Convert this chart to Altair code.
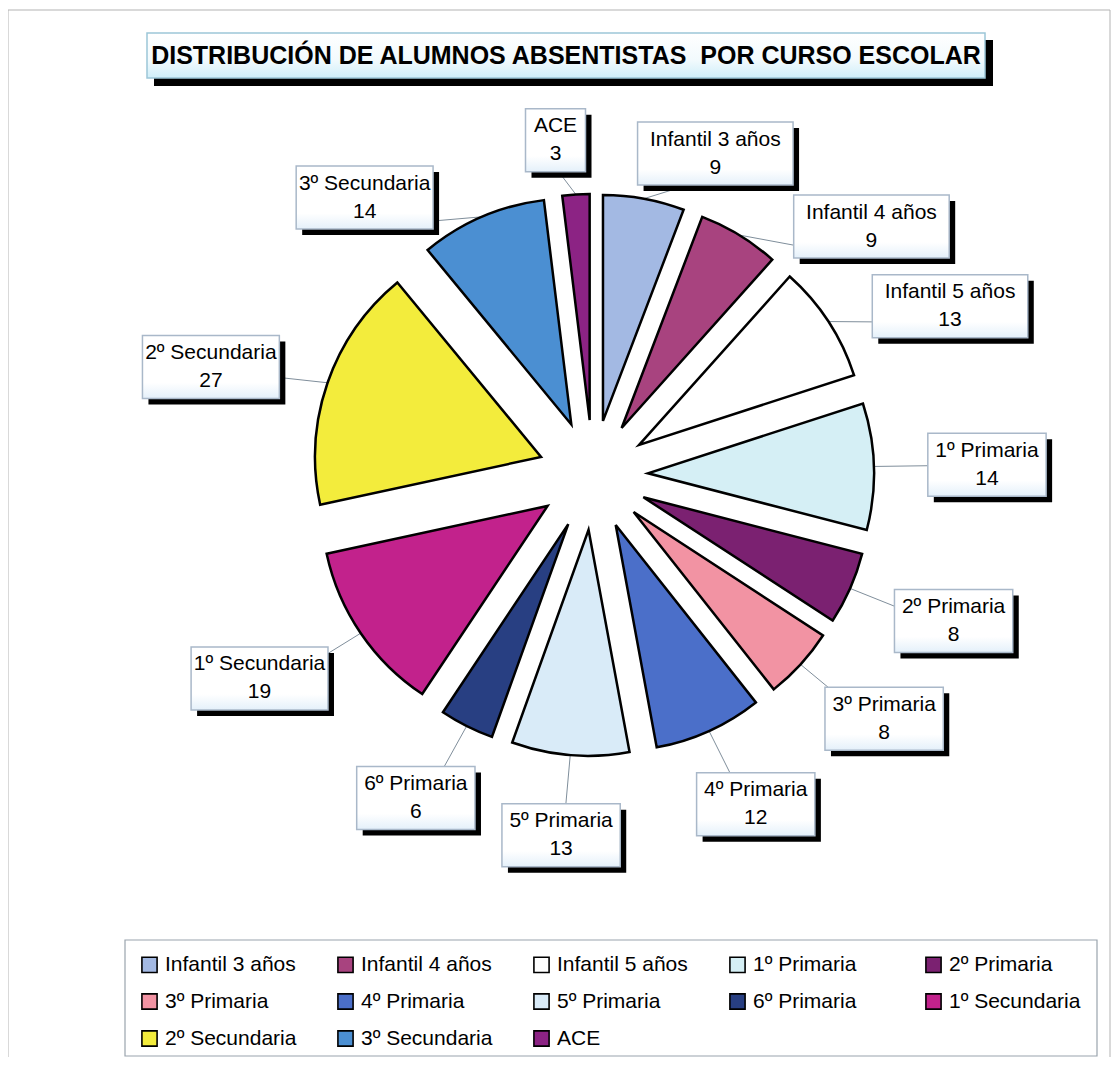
import altair as alt
import pandas as pd

# ---- data ----
categories = ["Infantil 3 años", "Infantil 4 años", "Infantil 5 años", "1º Primaria",
              "2º Primaria", "3º Primaria", "4º Primaria", "5º Primaria", "6º Primaria",
              "1º Secundaria", "2º Secundaria", "3º Secundaria", "ACE"]
values = [9, 9, 13, 14, 8, 8, 12, 13, 6, 19, 27, 14, 3]
title_text = "DISTRIBUCIÓN DE ALUMNOS ABSENTISTAS\u00a0 POR CURSO ESCOLAR"

# ---- style ----
palette = ["#a3b9e3", "#a8437f", "#ffffff", "#d5eff5", "#7b2171", "#f293a3",
           "#4b6fc9", "#d9ebf8", "#283f82", "#c2228c", "#f3ec3c", "#4b8fd2", "#8c2384"]
FONT = "Liberation Sans"
CX, CY = 585, 467      # pie centre (px)
R = 226                # slice radius
E = 55                 # explode distance
RX = 335               # label anchor ellipse, horizontal
RYT, RYB = 305, 330    # label anchor ellipse, vertical (top / bottom half)
SPREAD = 20            # degrees of label spreading near the top
BOX_H = 63

df = pd.DataFrame({"curso": categories, "alumnos": values, "orden": list(range(len(categories)))})

base = (
    alt.Chart(df)
    .transform_window(cum="sum(alumnos)", sort=[alt.SortField("orden")], frame=[None, 0])
    .transform_joinaggregate(total="sum(alumnos)")
    .transform_calculate(a0="(datum.cum - datum.alumnos) / datum.total * 2 * PI")
    .transform_calculate(a1="datum.cum / datum.total * 2 * PI")
    .transform_calculate(mid="(datum.a0 + datum.a1) / 2")
    .transform_calculate(
        lab=f"datum.mid + {SPREAD} * PI / 180 * sin(2 * datum.mid) * pow(max(0, cos(datum.mid)), 3)")
    .transform_calculate(sx=f"{CX} + {E} * sin(datum.mid)")
    .transform_calculate(sy=f"{CY} - {E} * cos(datum.mid)")
    .transform_calculate(ox=f"{CX} + {E + R} * sin(datum.mid)")
    .transform_calculate(oy=f"{CY} - {E + R} * cos(datum.mid)")
    .transform_calculate(ax=f"{CX} + {RX} * sin(datum.lab)")
    .transform_calculate(ay=f"{CY} - (cos(datum.lab) > 0 ? {RYT} : {RYB}) * cos(datum.lab)")
    .transform_calculate(bw="max(9.3 * length(datum.curso) + 16, 60)")
    .transform_calculate(bx="datum.ax + sin(datum.lab) * datum.bw / 2")
    .transform_calculate(by=f"datum.ay - cos(datum.lab) * {BOX_H / 2}")
    .transform_calculate(bx1="datum.bx - datum.bw / 2")
    .transform_calculate(bx2="datum.bx + datum.bw / 2")
    .transform_calculate(by1=f"datum.by - {BOX_H / 2}")
    .transform_calculate(by2=f"datum.by + {BOX_H / 2}")
)

arcs = base.mark_arc(radius=R, stroke="black", strokeWidth=2.5).encode(
    x=alt.X("sx:Q", scale=None, axis=None),
    y=alt.Y("sy:Q", scale=None, axis=None),
    theta=alt.Theta("a0:Q", scale=None, stack=False),
    theta2="a1:Q",
    fill=alt.Fill(
        "curso:N",
        scale=alt.Scale(domain=categories, range=palette),
        legend=alt.Legend(
            title=None, orient="none", legendX=131, legendY=946, columns=5,
            direction="horizontal",
            symbolType="square", symbolSize=230, symbolStrokeColor="black",
            symbolStrokeWidth=1.6, symbolOpacity=1,
            labelFont=FONT, labelFontSize=21, labelColor="black", labelOffset=5,
            labelLimit=300, columnPadding=37, rowPadding=14, padding=0,
            gridAlign="all",
        ),
    ),
    tooltip=["curso:N", "alumnos:Q"],
)

leaders = base.mark_rule(color="#7f8e9b", strokeWidth=1).encode(
    x=alt.X("ox:Q", scale=None), y=alt.Y("oy:Q", scale=None),
    x2="ax:Q", y2="ay:Q",
)

box_shadow = base.mark_rect(color="black", xOffset=6, x2Offset=6, yOffset=6, y2Offset=6).encode(
    x=alt.X("bx1:Q", scale=None), x2="bx2:Q",
    y=alt.Y("by1:Q", scale=None), y2="by2:Q",
)
boxes = base.mark_rect(
    fill={"gradient": "linear", "x1": 0, "y1": 0, "x2": 0, "y2": 1,
          "stops": [{"offset": 0, "color": "#ffffff"}, {"offset": 0.75, "color": "#ffffff"},
                    {"offset": 1, "color": "#e4f0fa"}]},
    stroke="#a9b8c9", strokeWidth=1.5,
).encode(
    x=alt.X("bx1:Q", scale=None), x2="bx2:Q",
    y=alt.Y("by1:Q", scale=None), y2="by2:Q",
)
label_name = base.mark_text(font=FONT, fontSize=21, color="black", baseline="middle", dy=-14).encode(
    x=alt.X("bx:Q", scale=None), y=alt.Y("by:Q", scale=None), text="curso:N",
)
label_value = base.mark_text(font=FONT, fontSize=21, color="black", baseline="middle", dy=14).encode(
    x=alt.X("bx:Q", scale=None), y=alt.Y("by:Q", scale=None), text="alumnos:Q",
)

tdf = pd.DataFrame({"t": [title_text]})
tbase = alt.Chart(tdf)
title_shadow = tbase.mark_rect(color="black").encode(
    x=alt.value(146), x2=alt.value(985), y=alt.value(32), y2=alt.value(78),
)
title_box = tbase.mark_rect(
    fill={"gradient": "linear", "x1": 0, "y1": 0, "x2": 0, "y2": 1,
          "stops": [{"offset": 0, "color": "#ffffff"}, {"offset": 0.6, "color": "#f2fafd"},
                    {"offset": 1, "color": "#cfeef9"}]},
    stroke="#9cc6d8", strokeWidth=1.5,
).encode(
    x=alt.value(139), x2=alt.value(977), y=alt.value(25), y2=alt.value(70),
)
title_mark = tbase.mark_text(font=FONT, fontSize=25, fontWeight="bold", color="black",
                             baseline="middle", align="center").encode(
    x=alt.value(558), y=alt.value(48), text="t:N",
)

frame = tbase.mark_rect(fill="white", stroke="#b3b3b3", strokeWidth=1).encode(
    x=alt.value(0), x2=alt.value(1102), y=alt.value(2), y2=alt.value(1060),
)
legend_box = tbase.mark_rect(fill="white", stroke="#9aa4ad", strokeWidth=1.2).encode(
    x=alt.value(117), x2=alt.value(1089), y=alt.value(932), y2=alt.value(1048),
)

chart = alt.layer(
    frame, legend_box, leaders, arcs, box_shadow, boxes, label_name, label_value,
    title_shadow, title_box, title_mark,
).properties(
    width=1103, height=1049, padding=0,
    autosize=alt.AutoSizeParams(type="none"),
    background="white",
).configure_view(stroke=None)

chart.save("out.html", embed_options={"renderer": "svg", "actions": False})
